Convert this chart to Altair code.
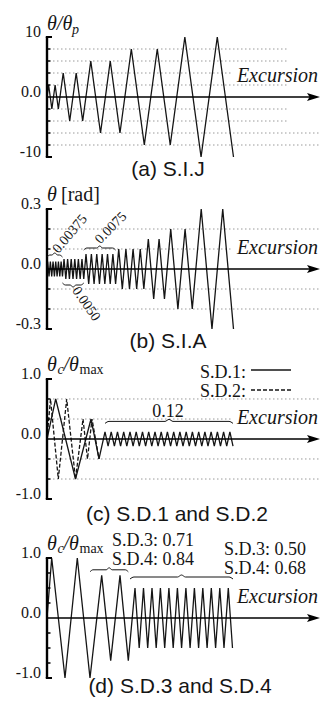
import altair as alt
import pandas as pd

# ================= DATA =================
# (a) S.I.J : reversal values of theta/theta_p and cumulative excursion (theta/theta_p units)
sij_exc = [0, 2, 6, 10, 14, 20, 28, 36, 44, 54, 66, 78, 90, 104, 120, 136, 152, 170, 190, 210, 230]
sij_val = [0, 2, -2, 2, -2, 4, -4, 4, -4, 6, -6, 6, -6, 8, -8, 8, -8, 10, -10, 10, -10]
sij_ticks = [8, 6, 4, 2, -2, -4, -6, -8]
sij_labels = ["10", "0.0", "-10"]

# (b) S.I.A : reversal values (axis units) and cumulative excursion
sia_exc = [0,
           0.0375, 0.1125, 0.1875, 0.2625, 0.3375, 0.4125, 0.4875, 0.5625, 0.6375, 0.7125, 0.7875, 0.8625,
           0.95, 1.05, 1.15, 1.25, 1.35, 1.45, 1.55, 1.65, 1.75, 1.85, 1.95, 2.05,
           2.175, 2.325, 2.475, 2.625, 2.775, 2.925, 3.075, 3.225, 3.375, 3.525, 3.675, 3.825,
           4.0, 4.2, 4.4, 4.6, 4.8, 5.0, 5.2, 5.4,
           5.65, 5.95, 6.25, 6.55,
           6.9, 7.3, 7.7, 8.1,
           8.6, 9.2, 9.8, 10.4]
sia_val = [0,
           0.0375, -0.0375, 0.0375, -0.0375, 0.0375, -0.0375, 0.0375, -0.0375, 0.0375, -0.0375, 0.0375, -0.0375,
           0.05, -0.05, 0.05, -0.05, 0.05, -0.05, 0.05, -0.05, 0.05, -0.05, 0.05, -0.05,
           0.075, -0.075, 0.075, -0.075, 0.075, -0.075, 0.075, -0.075, 0.075, -0.075, 0.075, -0.075,
           0.1, -0.1, 0.1, -0.1, 0.1, -0.1, 0.1, -0.1,
           0.15, -0.15, 0.15, -0.15,
           0.2, -0.2, 0.2, -0.2,
           0.3, -0.3, 0.3, -0.3]
sia_ticks = [0.2, 0.1, -0.1, -0.2]
sia_labels = ["0.3", "0.0", "-0.3"]
sia_blocks = [("0.00375", 0.0, 0.8625, 0.06, 1), ("0.0050", 0.8625, 2.05, -0.07, -1), ("0.0075", 2.05, 3.825, 0.095, 1)]

# (c) S.D.1 (solid) and S.D.2 (dashed): excursion position, theta_c/theta_max
sd1_pos = [0, 8.7, 28.5, 44.0, 52.0,
           58.0, 61.1, 64.2, 67.4, 70.5, 73.6, 76.7, 79.8, 83.0, 86.1, 89.2, 92.3, 95.5, 98.6,
           101.7, 104.8, 108.0, 111.1, 114.2, 117.3, 120.4, 123.6, 126.7, 129.8, 132.9, 136.0,
           139.2, 142.3, 145.4, 148.5, 151.7, 154.8, 157.9, 161.0, 164.1, 167.3, 170.4, 173.5,
           176.6, 179.7, 182.9, 186.0]
sd1_val = [0, 0.667, -0.667, 0.333, -0.333,
           0.12, -0.12, 0.12, -0.12, 0.12, -0.12, 0.12, -0.12, 0.12, -0.12, 0.12, -0.12, 0.12, -0.12,
           0.12, -0.12, 0.12, -0.12, 0.12, -0.12, 0.12, -0.12, 0.12, -0.12, 0.12, -0.12,
           0.12, -0.12, 0.12, -0.12, 0.12, -0.12, 0.12, -0.12, 0.12, -0.12, 0.12, -0.12,
           0.12, -0.12, 0.12, -0.12]
sd2_pos = [0, 3.5, 11.3, 19.7, 28.5, 36.0, 40.5, 45.0, 52.0]
sd2_val = [0, 0.667, -0.667, 0.667, -0.667, 0.333, -0.333, 0.333, -0.333]
sd_ticks = [0.667, 0.333, -0.333, -0.667]
sd_labels = ["1.0", "0.0", "-1.0"]

# (d) S.D.3
sd3_pos = [0, 4.7, 18.0, 30.3, 43.0, 54.7, 63.7, 73.0, 81.3,
           88.0, 92.2, 96.5, 100.7, 105.0, 109.2, 113.4, 117.7, 121.9, 126.2, 130.4, 134.6,
           138.9, 143.1, 147.4, 151.6, 155.8, 160.1, 164.3, 168.6, 172.8, 177.0, 181.3, 185.5]
sd3_val = [0, 1, -1, 1, -1, 0.71, -0.71, 0.71, -0.71,
           0.5, -0.5, 0.5, -0.5, 0.5, -0.5, 0.5, -0.5, 0.5, -0.5, 0.5, -0.5,
           0.5, -0.5, 0.5, -0.5, 0.5, -0.5, 0.5, -0.5, 0.5, -0.5, 0.5, -0.5]
sd34_ticks = [0.75, 0.5, 0.25, -0.25, -0.5, -0.75]

# ================= LAYOUT =================
W = 318
AX = 39        # y-axis position
ZERO = 89      # zero line position inside each panel
HALF = 60      # pixels from zero to axis end
TIP = 312      # arrow tip
SERIF = "Liberation Serif"
SANS = "Liberation Sans"
INK = "#151515"
ARROW = "M-1,-0.62L1,0L-1,0.62L-0.6,0Z"


def series(xv, yv):
    return pd.DataFrame({"x": xv, "y": yv, "i": list(range(len(xv)))})


def brace(x0, x1, y, h, q, bid):
    xm = (x0 + x1) / 2
    xs = [x0, x0 + q, xm - q, xm, xm + q, x1 - q, x1]
    ys = [y, y + h / 2, y + h / 2, y + h, y + h / 2, y + h / 2, y]
    return pd.DataFrame({"x": xs, "y": ys, "i": list(range(7)), "id": [bid] * 7})


def txt(s, x, y, size, font=SERIF, style="normal", align="left", angle=0, baseline="alphabetic"):
    return alt.Chart(pd.DataFrame({"a": [0]})).mark_text(
        text=s, font=font, fontSize=size, fontStyle=style, align=align,
        baseline=baseline, angle=angle, color=INK
    ).encode(x=alt.value(x), y=alt.value(y))


def panel(H, top, s, ticks, labels, grids, lines, braces, texts):
    k = HALF / top
    xs = alt.Scale(domain=[-AX / s, (W - AX) / s], nice=False, zero=False)
    ys = alt.Scale(domain=[-(H - ZERO) / k, ZERO / k], nice=False, zero=False)

    def X(f):
        return alt.X(f, type="quantitative", scale=xs, axis=None)

    def Y(f):
        return alt.Y(f, type="quantitative", scale=ys, axis=None)

    layers = []
    for end, vals in grids:
        layers.append(alt.Chart(pd.DataFrame({"y": vals})).mark_rule(
            color="#9a9a9a", strokeWidth=1, strokeDash=[1.5, 2.5]
        ).encode(y=Y("y"), x=alt.value(AX + 6), x2=alt.value(end)))
    for d, style in lines:
        layers.append(alt.Chart(d).mark_line(color=INK, strokeWidth=1.3, **style).encode(
            x=X("x"), y=Y("y"), order="i:Q"))
    # y axis bracket
    layers.append(alt.Chart(pd.DataFrame({"y": [top], "y2": [-top]})).mark_rule(
        color="#000", strokeWidth=2.4).encode(x=alt.value(AX), y=Y("y"), y2=alt.Y2("y2")))
    layers.append(alt.Chart(pd.DataFrame({"y": [top, -top]})).mark_rule(
        color="#000", strokeWidth=2).encode(y=Y("y"), x=alt.value(AX - 1.2), x2=alt.value(AX + 5)))
    layers.append(alt.Chart(pd.DataFrame({"y": ticks})).mark_rule(
        color="#000", strokeWidth=1.5).encode(y=Y("y"), x=alt.value(AX), x2=alt.value(AX + 3.5)))
    layers.append(alt.Chart(pd.DataFrame({"y": [top, 0, -top], "t": labels})).mark_text(
        font=SERIF, fontSize=16, align="right", baseline="alphabetic", color=INK
    ).encode(y=Y("y"), text="t:N", x=alt.value(AX - 6)))
    # excursion axis with arrow
    layers.append(alt.Chart(pd.DataFrame({"y": [0]})).mark_rule(
        color="#000", strokeWidth=1.6).encode(y=Y("y"), x=alt.value(AX), x2=alt.value(TIP - 9)))
    layers.append(alt.Chart(pd.DataFrame({"y": [0]})).mark_point(
        shape=ARROW, filled=True, size=169, color="#000", opacity=1, strokeWidth=0
    ).encode(y=Y("y"), x=alt.value(TIP - 6.5)))
    layers.append(txt("Excursion", 310, ZERO - 15, 20, style="italic", align="right"))
    for b in braces:
        layers.append(alt.Chart(b).mark_line(
            color=INK, strokeWidth=1, interpolate="monotone"
        ).encode(x=X("x"), y=Y("y"), detail="id:N", order="i:Q"))
    layers.extend(texts)
    return alt.layer(*layers).properties(width=W, height=H)


# ---- panel (a)
sA = 186.5 / 230
pA = panel(
    172, 10, sA, sij_ticks, sij_labels,
    [(280, [8, 6, 2, -2, -4]), (223, [4]), (312, [-6, -8])],
    [(series(sij_exc, sij_val), {})],
    [],
    [txt("θ/θ", AX, 22, 20, style="italic"),
     txt("p", 64, 26, 14, style="italic"),
     txt("(a) S.I.J", 160, 168, 21, font=SANS, align="center")],
)

# ---- panel (b)
sB = 186.5 / 10.4
kB = HALF / 0.3
b_braces = [brace(x0, x1, yb, d * 4 / kB, 3 / sB, n) for n, x0, x1, yb, d in sia_blocks]
pB = panel(
    170, 0.3, sB, sia_ticks, sia_labels,
    [(312, [0.2, -0.1, -0.2]), (223, [0.1])],
    [(series(sia_exc, sia_val), {})],
    b_braces,
    [txt("θ", AX, 21, 20, style="italic"),
     txt("[rad]", 53, 21, 20),
     txt(sia_blocks[0][0], 62, 54, 14, align="center", angle=310, baseline="middle"),
     txt(sia_blocks[1][0], 78, 124, 14, align="center", angle=55, baseline="middle"),
     txt(sia_blocks[2][0], 103, 48, 14, align="center", angle=315, baseline="middle"),
     txt("(b) S.I.A", 160, 168, 21, font=SANS, align="center")],
)

# ---- panel (c)
kC = HALF / 1.0
legend_c = [
    alt.Chart(pd.DataFrame({"a": [0]})).mark_rule(color=INK, strokeWidth=1.3).encode(
        x=alt.value(243), x2=alt.value(283), y=alt.value(20)),
    alt.Chart(pd.DataFrame({"a": [0]})).mark_rule(color=INK, strokeWidth=1.3, strokeDash=[4, 2]).encode(
        x=alt.value(243), x2=alt.value(283), y=alt.value(40)),
]
pC = panel(
    179, 1.0, 1.0, sd_ticks, sd_labels,
    [(312, [0.667, -0.333, -0.667]), (223, [0.333])],
    [(series(sd2_pos, sd2_val), {"strokeDash": [4, 2]}), (series(sd1_pos, sd1_val), {})],
    [brace(58.0, 186.0, 0.26, 4 / kC, 4, "c")],
    [txt("θ", AX, 21, 20, style="italic"),
     txt("c", 49.5, 24, 14, style="italic"),
     txt("/θ", 55.5, 21, 20, style="italic"),
     txt("max", 71.5, 24, 14),
     txt("S.D.1:", 192, 28, 18),
     txt("S.D.2:", 192, 47, 18),
     *legend_c,
     txt("0.12", 160, 67, 18, align="center"),
     txt("(c) S.D.1 and S.D.2", 169, 171, 21, font=SANS, align="center")],
)

# ---- panel (d)
pD = panel(
    167, 1.0, 1.0, sd34_ticks, sd_labels,
    [],
    [(series(sd3_pos, sd3_val), {})],
    [brace(43.0, 81.3, 0.77, 4 / kC, 3, "d1"), brace(83.0, 186.0, 0.65, 4 / kC, 4, "d2")],
    [txt("θ", AX, 21, 20, style="italic"),
     txt("c", 49.5, 24, 14, style="italic"),
     txt("/θ", 55.5, 21, 20, style="italic"),
     txt("max", 71.5, 24, 14),
     txt("S.D.3: 0.71", 104, 17, 18),
     txt("S.D.4: 0.84", 104, 36, 18),
     txt("S.D.3: 0.50", 216, 26, 18),
     txt("S.D.4: 0.68", 216, 45, 18),
     txt("(d) S.D.3 and S.D.4", 172, 164, 21, font=SANS, align="center")],
)

chart = alt.vconcat(pA, pB, pC, pD, spacing=0, bounds="flush").properties(
    padding=0, background="white"
).configure_view(strokeWidth=0, stroke="transparent")

chart.save("out.html", embed_options={"renderer": "svg", "actions": False})
